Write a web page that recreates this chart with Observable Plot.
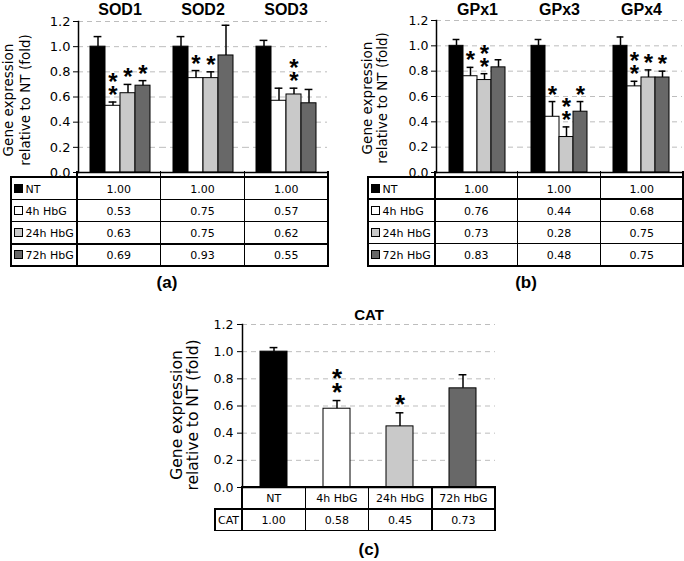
<!DOCTYPE html>
<html>
<head>
<meta charset="utf-8">
<script src="https://cdn.jsdelivr.net/npm/d3@7"></script>
<script src="https://cdn.jsdelivr.net/npm/@observablehq/plot@0.6"></script>
<style>
  body { margin: 0; background: #fff; }
  #page { position: relative; width: 684px; height: 561px; overflow: hidden; background: #fff;
          font-family: "DejaVu Sans", sans-serif; color: #000; }
  .abs { position: absolute; }
  .ln { position: absolute; background: #000; }
  .t { position: absolute; white-space: pre; transform: translate(-50%, -50%); line-height: 1; }
  .tl { position: absolute; white-space: pre; transform: translate(0, -50%); line-height: 1; }
  .sq { position: absolute; box-sizing: border-box; border: 1px solid #000; }
  .ylab { position: absolute; white-space: pre; text-align: center; transform: translate(-50%, -50%) rotate(-90deg); }
  .plab { position: absolute; transform: translate(-50%, -50%); font-family: "Liberation Sans", Arial, sans-serif; font-weight: bold; font-size: 17px; }
</style>
</head>
<body>
<div id="page"></div>
<script>
// ---------------- data ----------------
const treatments = ["NT", "4h HbG", "24h HbG", "72h HbG"];
const treatmentColors = ["#000000", "#ffffff", "#c9c9c9", "#686868"];
const yTicks = [0, 0.2, 0.4, 0.6, 0.8, 1.0, 1.2];

const genesA = ["SOD1", "SOD2", "SOD3"];
const sod1 = [1.00, 0.53, 0.63, 0.69];
const sod1Err = [0.08, 0.03, 0.07, 0.04];
const sod1Stars = [0, 2, 1, 1];
const sod2 = [1.00, 0.75, 0.75, 0.93];
const sod2Err = [0.08, 0.06, 0.05, 0.24];
const sod2Stars = [0, 1, 1, 0];
const sod3 = [1.00, 0.57, 0.62, 0.55];
const sod3Err = [0.05, 0.10, 0.05, 0.11];
const sod3Stars = [0, 0, 2, 0];

const genesB = ["GPx1", "GPx3", "GPx4"];
const gpx1 = [1.00, 0.76, 0.73, 0.83];
const gpx1Err = [0.05, 0.07, 0.05, 0.06];
const gpx1Stars = [0, 1, 2, 0];
const gpx3 = [1.00, 0.44, 0.28, 0.48];
const gpx3Err = [0.05, 0.12, 0.08, 0.08];
const gpx3Stars = [0, 1, 2, 1];
const gpx4 = [1.00, 0.68, 0.75, 0.75];
const gpx4Err = [0.07, 0.04, 0.06, 0.05];
const gpx4Stars = [0, 2, 1, 1];

const catGene = "CAT";
const cat = [1.00, 0.58, 0.45, 0.73];
const catErr = [0.03, 0.06, 0.10, 0.10];
const catStars = [0, 2, 1, 0];

const yLabel = "Gene expression\nrelative to NT (fold)";
const panelLabels = ["(a)", "(b)", "(c)"];

// ---------------- helpers ----------------
function rows(genes, vals, errs, stars) {
  const out = [];
  genes.forEach((g, gi) => treatments.forEach((t, ti) =>
    out.push({gene: g, treat: t, value: vals[gi][ti], err: errs[gi][ti], stars: stars[gi][ti]})));
  return out;
}
const dataA = rows(genesA, [sod1, sod2, sod3], [sod1Err, sod2Err, sod3Err], [sod1Stars, sod2Stars, sod3Stars]);
const dataB = rows(genesB, [gpx1, gpx3, gpx4], [gpx1Err, gpx3Err, gpx4Err], [gpx1Stars, gpx3Stars, gpx4Stars]);
const dataC = rows([catGene], [cat], [catErr], [catStars]);

const page = document.getElementById("page");
function add(cls, style, text) {
  const d = document.createElement("div");
  d.className = cls;
  Object.assign(d.style, style);
  if (text != null) d.textContent = text;
  page.appendChild(d);
  return d;
}
const LW = 1.5;
function hl(x1, x2, y) { add("ln", {left: x1 - LW / 2 + "px", top: y - LW / 2 + "px", width: (x2 - x1 + LW) + "px", height: LW + "px"}); }
function vl(x, y1, y2) { add("ln", {left: x - LW / 2 + "px", top: y1 - LW / 2 + "px", width: LW + "px", height: (y2 - y1 + LW) + "px"}); }
function ctext(x, y, s, size) { add("t", {left: x + "px", top: y + "px", fontSize: size + "px"}, s); }
function ltext(x, y, s, size) { add("tl", {left: x + "px", top: y + "px", fontSize: size + "px"}, s); }
const stars = d => Array(d.stars).fill("*").join("\n");

function facetPanel({data, genes, left, top, width, height, marginLeft, marginRight, marginTop, marginBottom, titleDy, tickFont}) {
  const plot = Plot.plot({
    width, height, marginLeft, marginRight, marginTop, marginBottom,
    style: {fontFamily: "DejaVu Sans", fontSize: tickFont + "px", color: "#000", background: "transparent", overflow: "visible"},
    fx: {domain: genes, padding: 0, axis: null},
    x: {domain: treatments, paddingInner: 0, paddingOuter: 0.745, axis: null},
    y: {domain: [0, 1.2], ticks: yTicks, tickFormat: d3.format(".1f"), tickSize: 5, tickPadding: 3, label: null},
    color: {domain: treatments, range: treatmentColors},
    marks: [
      Plot.ruleY(yTicks.filter(v => v > 0), {stroke: "#bdbdbd", strokeDasharray: "5,4"}),
      Plot.barY(data, {fx: "gene", x: "treat", y: "value", fill: "treat", stroke: "#000", strokeWidth: 1}),
      Plot.ruleX(data, {fx: "gene", x: "treat", y1: "value", y2: d => d.value + d.err, stroke: "#000", strokeWidth: 1.5}),
      Plot.tickY(data, {fx: "gene", x: "treat", y: d => d.value + d.err, stroke: "#000", strokeWidth: 1.5, insetLeft: 3.6, insetRight: 3.6}),
      Plot.text(data.filter(d => d.stars > 0), {fx: "gene", x: "treat", y: d => d.value + d.err, text: stars,
        lineAnchor: "bottom", dy: 1, fontSize: 24, fontWeight: "bold", lineHeight: 0.54, fontFamily: "Liberation Sans", fill: "#000"}),
      Plot.text(genes, {fx: d => d, text: d => d, frameAnchor: "top", lineAnchor: "middle", dy: titleDy, fontSize: 16, fontWeight: "bold", fontFamily: "Liberation Sans", fill: "#000"}),
      Plot.ruleY([0], {stroke: "#000", strokeWidth: 1.5}),
      Plot.frame({anchor: "left", facetAnchor: "left", stroke: "#000", strokeWidth: 1.5})
    ]
  });
  const wrap = add("abs", {left: left + "px", top: top + "px"});
  wrap.appendChild(plot);
  return plot;
}

function facetTable({genes, data, labelX, axisX, plotW, y0, tableTop, rowH}) {
  const colW = plotW / genes.length;
  const right = axisX + plotW;
  const nRows = treatments.length;
  const bottom = tableTop + rowH * nRows;
  for (let r = 0; r <= nRows; r++) hl(labelX, right, tableTop + r * rowH);
  vl(labelX, tableTop, bottom);
  for (let c = 0; c <= genes.length; c++) vl(axisX + c * colW, y0, bottom);
  treatments.forEach((t, ti) => {
    const cy = tableTop + (ti + 0.5) * rowH;
    add("sq", {left: labelX + 3 + "px", top: cy - 4.5 + "px", width: "9px", height: "9px", background: treatmentColors[ti]});
    ltext(labelX + 14.5, cy + 0.5, t, 11);
    genes.forEach((g, gi) => {
      const d = data.find(e => e.gene === g && e.treat === t);
      ctext(axisX + (gi + 0.5) * colW, cy + 0.5, d.value.toFixed(2), 11);
    });
  });
}

// ---------------- panel (a) ----------------
facetPanel({data: dataA, genes: genesA, left: 0, top: 0, width: 330, height: 180,
  marginLeft: 77, marginRight: 2, marginTop: 21, marginBottom: 8, titleDy: -11.5, tickFont: 13});
facetTable({genes: genesA, data: dataA, labelX: 11, axisX: 77, plotW: 251, y0: 172, tableTop: 177, rowH: 22.25});
add("ylab", {left: "16.5px", top: "100px", fontSize: "13.5px", lineHeight: "17px"}, yLabel);
add("plab", {left: "167px", top: "283px"}, panelLabels[0]);

// ---------------- panel (b) ----------------
facetPanel({data: dataB, genes: genesB, left: 358, top: 0, width: 326, height: 180,
  marginLeft: 77, marginRight: 1, marginTop: 20, marginBottom: 8, titleDy: -11, tickFont: 12.5});
facetTable({genes: genesB, data: dataB, labelX: 368, axisX: 435, plotW: 248, y0: 172, tableTop: 177, rowH: 22.2});
add("ylab", {left: "374.5px", top: "98px", fontSize: "13.5px", lineHeight: "15px"}, yLabel);
add("plab", {left: "526px", top: "283px"}, panelLabels[1]);

// ---------------- panel (c) ----------------
const plotC = Plot.plot({
  width: 332, height: 195, marginLeft: 77, marginRight: 2, marginTop: 24, marginBottom: 8,
  style: {fontFamily: "DejaVu Sans", fontSize: "12.5px", color: "#000", background: "transparent", overflow: "visible"},
  x: {domain: treatments, paddingInner: 0.57, paddingOuter: 0.285, axis: null},
  y: {domain: [0, 1.2], ticks: yTicks, tickFormat: d3.format(".1f"), tickSize: 5, tickPadding: 4, label: null},
  color: {domain: treatments, range: treatmentColors},
  marks: [
    Plot.ruleY(yTicks.filter(v => v > 0), {stroke: "#bdbdbd", strokeDasharray: "5,4"}),
    Plot.barY(dataC, {x: "treat", y: "value", fill: "treat", stroke: "#000", strokeWidth: 1}),
    Plot.ruleX(dataC, {x: "treat", y1: "value", y2: d => d.value + d.err, stroke: "#000", strokeWidth: 1.5}),
    Plot.tickY(dataC, {x: "treat", y: d => d.value + d.err, stroke: "#000", strokeWidth: 1.5, insetLeft: 9.6, insetRight: 9.6}),
    Plot.text(dataC.filter(d => d.stars > 0), {x: "treat", y: d => d.value + d.err, text: stars,
      lineAnchor: "bottom", dy: 0, fontSize: 26, fontWeight: "bold", lineHeight: 0.54, fontFamily: "Liberation Sans", fill: "#000"}),
    Plot.text([catGene], {text: d => d, frameAnchor: "top", lineAnchor: "middle", dy: -9, fontSize: 15, fontWeight: "bold", fontFamily: "Liberation Sans", fill: "#000"}),
    Plot.ruleY([0], {stroke: "#000", strokeWidth: 1.5}),
    Plot.frame({anchor: "left", stroke: "#000", strokeWidth: 1.5})
  ]
});
add("abs", {left: "165px", top: "300px"}).appendChild(plotC);
(function () {
  const axisX = 242, plotW = 253, y0 = 487, rowH = 21.75, labelX = 215;
  const colW = plotW / treatments.length;
  const right = axisX + plotW;
  hl(axisX, right, y0);
  hl(labelX, right, y0 + rowH);
  hl(labelX, right, y0 + 2 * rowH);
  vl(labelX, y0 + rowH, y0 + 2 * rowH);
  for (let c = 0; c <= treatments.length; c++) vl(axisX + c * colW, y0, y0 + 2 * rowH);
  ctext((labelX + axisX) / 2, y0 + 1.5 * rowH + 0.5, catGene, 11);
  treatments.forEach((t, ti) => {
    ctext(axisX + (ti + 0.5) * colW, y0 + 0.5 * rowH + 0.5, t, 11);
    ctext(axisX + (ti + 0.5) * colW, y0 + 1.5 * rowH + 0.5, cat[ti].toFixed(2), 11);
  });
})();
add("ylab", {left: "185px", top: "415px", fontSize: "15.5px", lineHeight: "16px"}, yLabel);
add("plab", {left: "369px", top: "550px"}, panelLabels[2]);
</script>
</body>
</html>
